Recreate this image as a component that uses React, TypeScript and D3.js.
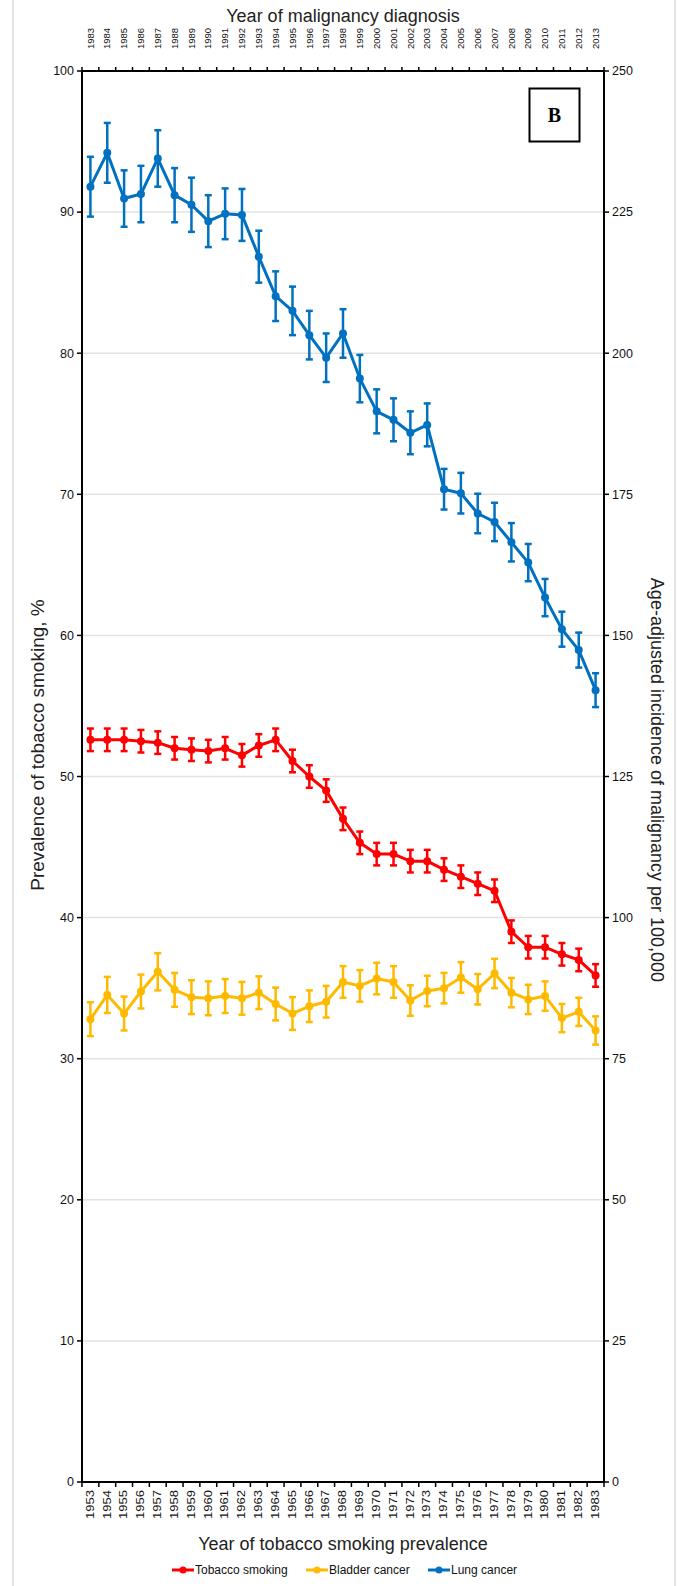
import React from "react";
import * as d3 from "d3";

const smokingYears = d3.range(1953, 1984).map(String);
const diagnosisYears = d3.range(1983, 2014).map(String);

// Tobacco smoking prevalence, % (left axis)
const tobacco = [52.6, 52.6, 52.6, 52.5, 52.4, 52.0, 51.9, 51.8, 52.0, 51.5, 52.2, 52.6, 51.1, 50.0, 49.0, 47.0, 45.3, 44.5, 44.5, 44.0, 44.0, 43.4, 42.9, 42.4, 41.9, 39.0, 37.9, 37.9, 37.4, 37.0, 35.9];
const tobaccoErr = [0.8, 0.8, 0.8, 0.8, 0.8, 0.8, 0.8, 0.8, 0.8, 0.8, 0.8, 0.8, 0.8, 0.8, 0.8, 0.8, 0.8, 0.8, 0.8, 0.8, 0.8, 0.8, 0.8, 0.8, 0.8, 0.8, 0.8, 0.8, 0.8, 0.8, 0.8];

// Bladder cancer incidence per 100,000 (right axis)
const bladder = [82.0, 86.3, 83.0, 86.9, 90.4, 87.2, 85.9, 85.7, 86.1, 85.7, 86.7, 84.7, 83.0, 84.3, 85.1, 88.6, 87.9, 89.2, 88.6, 85.3, 87.0, 87.5, 89.4, 87.3, 90.1, 86.7, 85.5, 86.1, 82.2, 83.3, 80.0];
const bladderErr = [3.0, 3.2, 3.0, 3.0, 3.3, 3.0, 3.0, 3.0, 3.0, 2.9, 2.9, 2.9, 2.9, 2.8, 2.8, 2.8, 2.8, 2.8, 2.8, 2.7, 2.7, 2.7, 2.7, 2.7, 2.6, 2.6, 2.6, 2.6, 2.5, 2.5, 2.5];

// Lung cancer incidence per 100,000 (right axis)
const lung = [229.5, 235.5, 227.4, 228.2, 234.5, 228.0, 226.3, 223.4, 224.7, 224.5, 217.1, 210.1, 207.5, 203.2, 199.2, 203.5, 195.5, 189.7, 188.2, 185.9, 187.3, 175.9, 175.2, 171.6, 170.1, 166.5, 162.9, 156.7, 151.1, 147.4, 140.3];
const lungErr = [5.3, 5.3, 5.0, 5.0, 5.0, 4.8, 4.8, 4.6, 4.5, 4.6, 4.6, 4.4, 4.3, 4.3, 4.3, 4.3, 4.2, 3.9, 3.8, 3.8, 3.8, 3.6, 3.6, 3.5, 3.4, 3.4, 3.3, 3.3, 3.1, 3.1, 3.0];

const leftTicks = [0, 10, 20, 30, 40, 50, 60, 70, 80, 90, 100];
const rightTicks = [0, 25, 50, 75, 100, 125, 150, 175, 200, 225, 250];

const W = 683;
const H = 1586;
const L = 82;
const R = 604;
const T = 71;
const B = 1482;

const RED = "#FF0000";
const YEL = "#FFBA00";
const BLU = "#0070C0";
const FONT = "'Liberation Sans', Arial, sans-serif";

export default function App() {
  const x = d3.scaleBand<number>().domain(d3.range(31)).range([L, R]).padding(0);
  const cx = (i: number) => (x(i) as number) + x.bandwidth() / 2;
  const yL = d3.scaleLinear().domain([0, 100]).range([B, T]);
  const yR = d3.scaleLinear().domain([0, 250]).range([B, T]);

  const series = [
    { name: "Tobacco smoking", vals: tobacco, err: tobaccoErr, y: yL, color: RED },
    { name: "Bladder cancer", vals: bladder, err: bladderErr, y: yR, color: YEL },
    { name: "Lung cancer", vals: lung, err: lungErr, y: yR, color: BLU },
  ];

  const boundaries = d3.range(32).map((i) => L + i * x.bandwidth());

  return (
    <svg
      width={W}
      height={H}
      style={{ position: "absolute", left: 0, top: 0, display: "block", background: "#fff" }}
      fontFamily={FONT}
    >
      {/* page frame */}
      <line x1={13} x2={13} y1={0} y2={H} stroke="#e4e4e4" strokeWidth={2} />
      <line x1={675} x2={675} y1={0} y2={H} stroke="#e4e4e4" strokeWidth={2} />

      {/* gridlines */}
      {leftTicks.slice(1, -1).map((t) => (
        <line key={"g" + t} x1={L} x2={R} y1={yL(t)} y2={yL(t)} stroke="#e2e2e2" strokeWidth={1.5} />
      ))}

      {/* series */}
      {series.map((s) => {
        const line = d3
          .line<number>()
          .x((_, i) => cx(i))
          .y((v) => s.y(v));
        return (
          <g key={s.name}>
            {s.vals.map((v, i) => (
              <g key={i} stroke={s.color} strokeWidth={2.5}>
                <line x1={cx(i)} x2={cx(i)} y1={s.y(v + s.err[i])} y2={s.y(v - s.err[i])} />
                <line x1={cx(i) - 3.5} x2={cx(i) + 3.5} y1={s.y(v + s.err[i])} y2={s.y(v + s.err[i])} />
                <line x1={cx(i) - 3.5} x2={cx(i) + 3.5} y1={s.y(v - s.err[i])} y2={s.y(v - s.err[i])} />
              </g>
            ))}
            <path d={line(s.vals) as string} fill="none" stroke={s.color} strokeWidth={3} strokeLinejoin="round" />
            {s.vals.map((v, i) => (
              <circle key={"c" + i} cx={cx(i)} cy={s.y(v)} r={4} fill={s.color} />
            ))}
          </g>
        );
      })}

      {/* axes frame */}
      <g stroke="#000" strokeWidth={2} fill="none">
        <line x1={L} x2={L} y1={T} y2={B + 1} />
        <line x1={R} x2={R} y1={T - 1} y2={B + 1} />
        <line x1={L} x2={R} y1={T} y2={T} />
        <line x1={L - 1} x2={R + 1} y1={B} y2={B} />
      </g>

      {/* left ticks */}
      {leftTicks.map((t) => (
        <g key={"l" + t}>
          <line x1={L - 5} x2={L} y1={yL(t)} y2={yL(t)} stroke="#000" strokeWidth={1.5} />
          <text x={L - 8} y={yL(t)} dy="0.35em" textAnchor="end" fontSize={12.5} fill="#111">
            {t}
          </text>
        </g>
      ))}
      {/* right ticks */}
      {rightTicks.map((t) => (
        <g key={"r" + t}>
          <line x1={R} x2={R + 5} y1={yR(t)} y2={yR(t)} stroke="#000" strokeWidth={1.5} />
          <text x={R + 8} y={yR(t)} dy="0.35em" textAnchor="start" fontSize={12.5} fill="#111">
            {t}
          </text>
        </g>
      ))}

      {/* category boundary ticks */}
      {boundaries.map((bx, i) => (
        <g key={"b" + i} stroke="#000" strokeWidth={1.5}>
          <line x1={bx} x2={bx} y1={B} y2={B + 5} />
          <line x1={bx} x2={bx} y1={T - 4} y2={T} />
        </g>
      ))}

      {/* bottom category labels */}
      {smokingYears.map((yr, i) => (
        <text
          key={"bl" + yr}
          transform={`translate(${cx(i) + 3.3},${B + 8}) rotate(-90) scale(1,0.78)`}
          textAnchor="end"
          fontSize={13}
          fill="#111"
        >
          {yr}
        </text>
      ))}
      {/* top category labels */}
      {diagnosisYears.map((yr, i) => (
        <text
          key={"tl" + yr}
          transform={`translate(${cx(i) + 3.2},${T - 22}) rotate(-90)`}
          textAnchor="start"
          fontSize={9.5}
          fill="#111"
        >
          {yr}
        </text>
      ))}

      {/* axis titles */}
      <text x={(L + R) / 2} y={22} textAnchor="middle" fontSize={18} fill="#222">
        Year of malignancy diagnosis
      </text>
      <text x={(L + R) / 2} y={1550} textAnchor="middle" fontSize={18} fill="#222">
        Year of tobacco smoking prevalence
      </text>
      <text transform={`translate(44,745) rotate(-90)`} textAnchor="middle" fontSize={19} fill="#222">
        Prevalence of tobacco smoking, %
      </text>
      <text transform={`translate(651,780) rotate(90)`} textAnchor="middle" fontSize={18} fill="#222">
        Age-adjusted incidence of malignancy per 100,000
      </text>

      {/* B label box */}
      <rect x={529.5} y={88.5} width={50} height={53} fill="#fff" stroke="#000" strokeWidth={2} />
      <text x={554.5} y={122} textAnchor="middle" fontSize={20} fontWeight="bold" fontFamily="'Liberation Serif', 'Times New Roman', serif" fill="#000">
        B
      </text>

      {/* legend */}
      {[
        { name: "Tobacco smoking", color: RED, x: 172 },
        { name: "Bladder cancer", color: YEL, x: 306 },
        { name: "Lung cancer", color: BLU, x: 428 },
      ].map((l) => (
        <g key={l.name}>
          <line x1={l.x} x2={l.x + 22} y1={1570} y2={1570} stroke={l.color} strokeWidth={3} />
          <circle cx={l.x + 11} cy={1570} r={3.5} fill={l.color} />
          <text x={l.x + 23} y={1570} dy="0.36em" fontSize={12} fill="#111">
            {l.name}
          </text>
        </g>
      ))}
    </svg>
  );
}
